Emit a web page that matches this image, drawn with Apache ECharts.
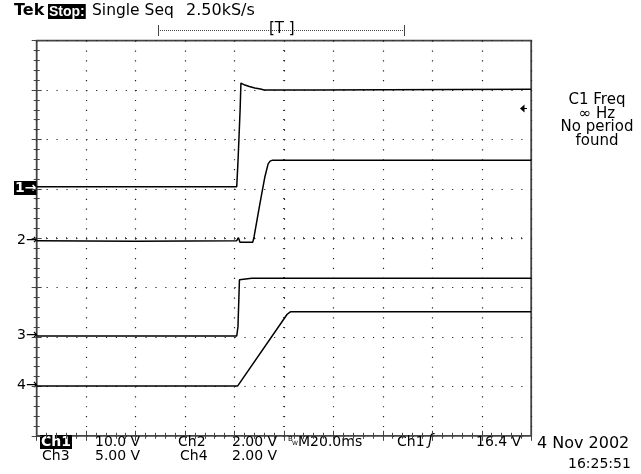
<!DOCTYPE html>
<html><head><meta charset="utf-8">
<script src="https://cdn.jsdelivr.net/npm/echarts@6/dist/echarts.min.js"></script>
<style>html,body{margin:0;padding:0;background:#fff}#c{width:641px;height:474px}</style>
</head><body><div id="c"></div>
<script>
// time in ms (20 ms/div), values in volts
const ch1 = [[0,0],[80.9,0],[81.4,5],[81.9,11],[82.3,16],[82.6,21.0],[83.4,20.8],[84.2,20.6],[86.0,20.3],[88.2,20.0],[90.5,19.8],[92.0,19.6],[92.4,19.4],[93.2,19.6],[112,19.6],[112.5,19.75],[200,19.75]];
const ch2 = [[0,0.02],[40,0.0],[80.9,0.02],[81.6,0.14],[82.2,-0.04],[87.4,-0.04],[87.9,0.17],[90.3,1.53],[92.3,2.61],[93.6,3.13],[94.4,3.24],[95.4,3.28],[200,3.28]];
const ch3 = [[0,0],[80.9,0],[81.4,0.95],[82.0,5.7],[82.3,5.85],[87.0,5.85],[87.4,5.65],[87.8,5.85],[200,5.85]];
const ch4 = [[0,0],[81.3,0],[81.8,0.08],[101.3,2.9],[102.6,3.0],[200,3.0]];
const voltsPerDiv = [10, 2, 5, 2];
const groundDiv = [5.04, 3.94, 2.02, 1.01];
const channels = [ch1, ch2, ch3, ch4];

const chart = echarts.init(document.getElementById('c'), null, {renderer:'canvas'});
const F = 'DejaVu Sans';
function toDiv(arr, i){ return arr.map(p => [p[0], groundDiv[i] + p[1]/voltsPerDiv[i]]); }

const baseX = {type:'value', min:0, max:200, interval:20, axisLabel:{show:false}, axisLine:{show:false}};
const baseY = {type:'value', min:0, max:8, interval:1, axisLabel:{show:false}, axisLine:{show:false}};
const edgeTick = {show:true, inside:true, length:5, lineStyle:{color:'#444', width:1}};
const edgeMinor = {show:true, splitNumber:5, length:3, lineStyle:{color:'#444', width:1}};
const crossTick = {show:true, length:1, lineStyle:{color:'#333', width:1}};
const crossMinor = {show:true, splitNumber:5, length:1, lineStyle:{color:'#333', width:1}};

function txt(x, y, s, opt){
  return {type:'text', x:x, y:y, style:Object.assign({text:s, font:'14px '+F, fill:'#000', verticalAlign:'top'}, opt||{})};
}

const option = {
  animation:false,
  grid:{left:36.7, top:40.6, width:494.5, height:395.2, show:true, borderColor:'#444', borderWidth:1.8, backgroundColor:'#fff'},
  xAxis:[
    Object.assign({}, baseX, {position:'bottom', axisTick:edgeTick, minorTick:edgeMinor,
      splitLine:{show:true, lineStyle:{color:'#222', width:1.2, type:[1.2, 8.68]}}}),
    Object.assign({}, baseX, {position:'top', axisTick:edgeTick, minorTick:edgeMinor, splitLine:{show:false}}),
    Object.assign({}, baseX, {position:'bottom', offset:-197.6, axisTick:Object.assign({inside:true},crossTick), minorTick:crossMinor, splitLine:{show:false}}),
    Object.assign({}, baseX, {position:'bottom', offset:-197.6, axisTick:Object.assign({inside:false},crossTick), minorTick:crossMinor, splitLine:{show:false}})
  ],
  yAxis:[
    Object.assign({}, baseY, {position:'left', axisTick:edgeTick, minorTick:edgeMinor,
      splitLine:{show:true, lineStyle:{color:'#222', width:1.2, type:[1.2, 8.69]}}}),
    Object.assign({}, baseY, {position:'right', axisTick:edgeTick, minorTick:edgeMinor, splitLine:{show:false}}),
    Object.assign({}, baseY, {position:'left', offset:-247.25, axisTick:Object.assign({inside:true},crossTick), minorTick:crossMinor, splitLine:{show:false}}),
    Object.assign({}, baseY, {position:'left', offset:-247.25, axisTick:Object.assign({inside:false},crossTick), minorTick:crossMinor, splitLine:{show:false}})
  ],
  series: channels.map((c,i)=>({
    type:'line', xAxisIndex:0, yAxisIndex:0, data:toDiv(c,i), showSymbol:false, symbol:'none',
    lineStyle:{color:'#000', width:1.5}, z:5
  })),
  graphic:[
    txt(14, 3, 'Tek', {font:'bold 16px '+F}),
    txt(48, 4, 'Stop:', {font:'bold 14px "Liberation Sans"', fill:'#fff', backgroundColor:'#000', padding:[1,1,0,1]}),
    txt(92, 3, 'Single Seq', {font:'15.5px '+F}),
    txt(186, 3, '2.50kS/s', {font:'16px '+F}),
    {type:'line', shape:{x1:158, y1:30.5, x2:405, y2:30.5}, style:{stroke:'#444', lineWidth:1, lineDash:[1,1]}},
    {type:'line', shape:{x1:158.5, y1:25, x2:158.5, y2:36}, style:{stroke:'#444', lineWidth:1}},
    {type:'line', shape:{x1:404.5, y1:25, x2:404.5, y2:36}, style:{stroke:'#444', lineWidth:1}},
    txt(269, 22, '[T ]', {font:'15px '+F}),
    // channel markers
    txt(14, 181, '1\u2192', {font:'bold 14px '+F, fill:'#fff', backgroundColor:'#000', padding:[0,0,0,1]}),
    txt(17, 233, '2\u2192'),
    txt(17, 328, '3\u2192'),
    txt(17, 378, '4\u2192'),
    // trigger level arrow
    {type:'polygon', shape:{points:[[520,108.5],[524.5,104.5],[524.5,112.5]]}, style:{fill:'#000'}},
    {type:'line', shape:{x1:524, y1:108.5, x2:527, y2:108.5}, style:{stroke:'#000', lineWidth:1}},
    // right measurement
    txt(597, 93, 'C1 Freq', {align:'center', font:'15px '+F}),
    txt(597, 107, '\u221E Hz', {align:'center', font:'15px '+F}),
    txt(597, 120, 'No period', {align:'center', font:'15px '+F}),
    txt(597, 134, 'found', {align:'center', font:'15px '+F}),
    // bottom readouts
    txt(40, 435, 'Ch1', {font:'bold 14px '+F, fill:'#fff', backgroundColor:'#000', padding:[0,1,0,1]}),
    txt(95, 435, '10.0 V'),
    txt(178, 435, 'Ch2'),
    txt(232, 435, '2.00 V'),
    txt(288, 436, 'B', {font:'7px '+F}),
    txt(292, 440, 'W', {font:'6px '+F}),
    txt(298, 435, 'M20.0ms'),
    txt(397, 435, 'Ch1'),
    txt(428, 434, '\u0283', {font:'italic 15px '+F}),
    txt(476, 435, '16.4 V'),
    txt(42, 449, 'Ch3'),
    txt(95, 449, '5.00 V'),
    txt(180, 449, 'Ch4'),
    txt(232, 449, '2.00 V'),
    txt(537, 436, '4 Nov 2002', {font:'16px '+F}),
    txt(568, 457, '16:25:51')
  ]
};
chart.setOption(option);
</script></body></html>
